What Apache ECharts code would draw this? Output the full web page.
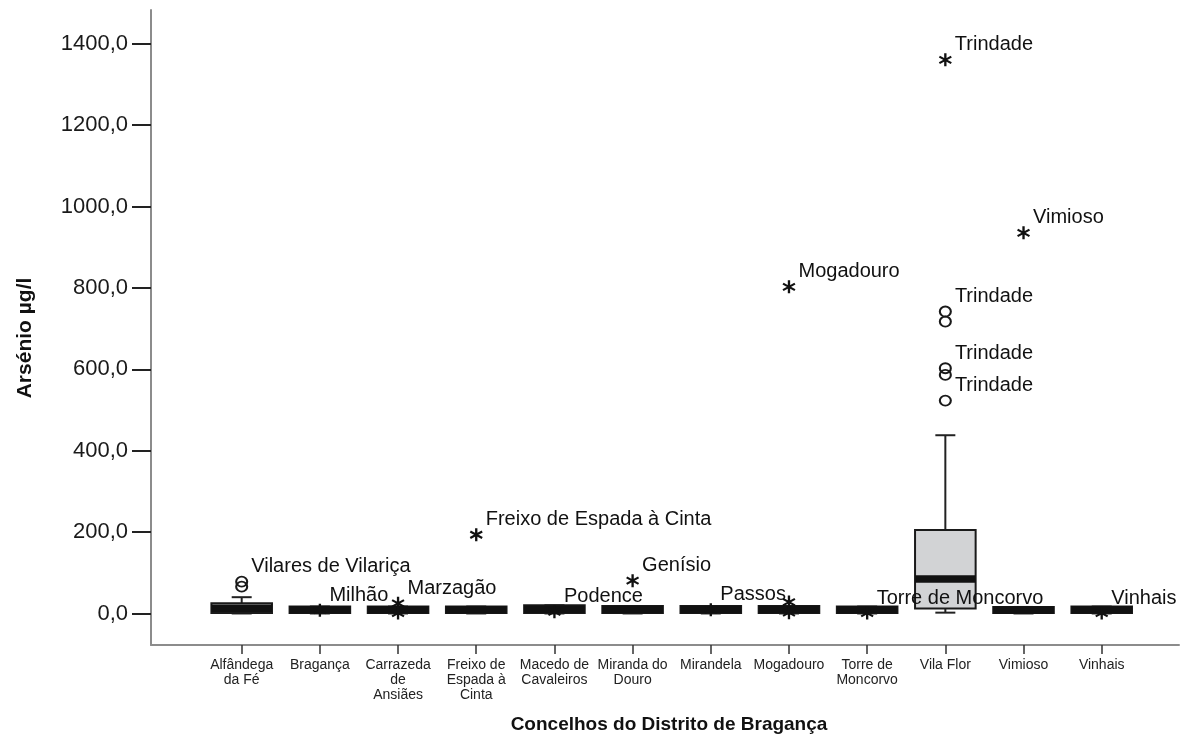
<!DOCTYPE html>
<html>
<head>
<meta charset="utf-8">
<script src="https://cdn.jsdelivr.net/npm/echarts@6/dist/echarts.min.js"></script>
<style>html,body{margin:0;padding:0;background:#fff}#c{width:1191px;height:738px}</style>
</head>
<body>
<div id="c"></div>
<script>
// ---- data ----
const categories = ['Alfândega\nda Fé','Bragança','Carrazeda\nde\nAnsiães','Freixo de\nEspada à\nCinta','Macedo de\nCavaleiros','Miranda do\nDouro','Mirandela','Mogadouro','Torre de\nMoncorvo','Vila Flor','Vimioso','Vinhais'];
const boxMin = [0, 0, 0, 0, 0, 0, 0, 0, 0, 2, 0, 0];
const boxQ1  = [1.2, 1, 1, 1, 1, 1, 1, 1, 1, 12, 1, 1];
const boxMed = [13, 9, 9, 9, 10.5, 9.7, 9.7, 9.7, 9, 85, 8.5, 9];
const boxQ3  = [25, 17, 17, 17, 20, 18.4, 18.4, 18.4, 17, 205, 16, 17];
const boxMax = [40, 17, 17, 17, 20, 18.4, 18.4, 18.4, 17, 438, 16, 17];

const starCat  = [1, 2, 2, 3, 4, 5, 6, 7, 7, 7, 8, 9, 10, 11];
const starVal  = [8, 25, 1, 193.5, 4, 80.6, 9, 802.6, 28, 2, 1, 1360.6, 935.3, 1];
const starName = ['Milhão', 'Marzagão', '', 'Freixo de Espada à Cinta', 'Podence', 'Genísio', 'Passos', 'Mogadouro', '', '', 'Torre de Moncorvo', 'Trindade', 'Vimioso', 'Vinhais'];

const circleCat  = [0, 0, 9, 9, 9, 9, 9];
const circleVal  = [78.2, 65.9, 741.9, 717.3, 602.7, 586.3, 523.1];
const circleName = ['Vilares de Vilariça', '', 'Trindade', '', 'Trindade', '', 'Trindade'];

const yTicks = [0, 200, 400, 600, 800, 1000, 1200, 1400];
const yMin = -77.5, yMax = 1483;
const yTitle = 'Arsénio µg/l';
const xTitle = 'Concelhos do Distrito de Bragança';

// ---- chart ----
const chart = echarts.init(document.getElementById('c'), null, {renderer: 'canvas'});
const FONT = 'Liberation Sans, Arial, sans-serif';
const starPath = 'path://M8.3 0L11.7 0L11.7 20L8.3 20Z M2.14 3.614L19.46 13.614L17.86 16.386L0.54 6.386Z M19.46 6.386L2.14 16.386L0.54 13.614L17.86 3.614Z';

function renderBox(params, api) {
  const i = api.value(0);
  const lo = api.coord([i, api.value(1)]);
  const q1 = api.coord([i, api.value(2)]);
  const md = api.coord([i, api.value(3)]);
  const q3 = api.coord([i, api.value(4)]);
  const hi = api.coord([i, api.value(5)]);
  const bw = api.size([1, 0])[0] * 0.775;
  const cap = 20;
  const cx = lo[0];
  const ln = {stroke: '#222', lineWidth: 2};
  return {
    type: 'group',
    children: [
      {type: 'line', shape: {x1: cx, y1: hi[1], x2: cx, y2: q3[1]}, style: ln},
      {type: 'line', shape: {x1: cx, y1: q1[1], x2: cx, y2: lo[1]}, style: ln},
      {type: 'line', shape: {x1: cx - cap / 2, y1: hi[1], x2: cx + cap / 2, y2: hi[1]}, style: ln},
      {type: 'line', shape: {x1: cx - cap / 2, y1: lo[1], x2: cx + cap / 2, y2: lo[1]}, style: ln},
      {type: 'rect', shape: {x: cx - bw / 2, y: q3[1], width: bw, height: q1[1] - q3[1]},
        style: {fill: '#d2d3d5', stroke: '#1a1a1a', lineWidth: 2}},
      {type: 'line', shape: {x1: cx - bw / 2, y1: md[1], x2: cx + bw / 2, y2: md[1]},
        style: {stroke: '#111', lineWidth: 7.5}}
    ]
  };
}

const labelCfg = {
  show: true, position: 'right', distance: 3, offset: [0, -15],
  formatter: p => p.data[2] || '', fontSize: 20, color: '#111', opacity: 1, fontFamily: FONT
};

const option = {
  animation: false,
  backgroundColor: '#fff',
  grid: [
    {left: 151, right: 12, top: 10, bottom: 93},
    {left: 202.6, width: 938.2, top: 10, bottom: 93}
  ],
  xAxis: [
    {gridIndex: 0, type: 'value', min: 0, max: 1,
      axisLine: {show: true, onZero: false, lineStyle: {color: '#8c8c8c', width: 2}},
      axisTick: {show: false}, axisLabel: {show: false}, splitLine: {show: false}},
    {gridIndex: 1, type: 'category', data: categories, boundaryGap: true,
      axisLine: {show: false, onZero: false},
      axisTick: {show: true, alignWithLabel: true, length: 9, lineStyle: {color: '#333', width: 1.5}},
      axisLabel: {interval: 0, margin: 13, fontSize: 14, lineHeight: 15, color: '#222', fontFamily: FONT},
      splitLine: {show: false}}
  ],
  yAxis: [
    {gridIndex: 0, type: 'value', min: yMin, max: yMax,
      axisLine: {show: true, onZero: false, lineStyle: {color: '#8c8c8c', width: 2}},
      axisTick: {show: true, length: 19, customValues: yTicks, lineStyle: {color: '#222', width: 2}},
      axisLabel: {customValues: yTicks, margin: 23, fontSize: 22, color: '#1a1a1a', fontFamily: FONT,
        formatter: v => v.toFixed(1).replace('.', ',')},
      splitLine: {show: false}},
    {gridIndex: 1, type: 'value', min: yMin, max: yMax, show: false,
      axisLine: {show: false}, axisTick: {show: false}, axisLabel: {show: false}, splitLine: {show: false}}
  ],
  series: [
    {type: 'custom', xAxisIndex: 1, yAxisIndex: 1, renderItem: renderBox, z: 2,
      encode: {x: 0, y: [1, 2, 3, 4, 5]},
      data: categories.map((c, i) => [i, boxMin[i], boxQ1[i], boxMed[i], boxQ3[i], boxMax[i]])},
    {type: 'scatter', xAxisIndex: 1, yAxisIndex: 1, z: 5,
      symbol: 'circle', symbolSize: [11, 10],
      itemStyle: {color: 'rgba(0,0,0,0)', borderColor: '#1a1a1a', borderWidth: 2, opacity: 1},
      label: labelCfg,
      data: circleCat.map((c, i) => [c, circleVal[i], circleName[i]])},
    {type: 'scatter', xAxisIndex: 1, yAxisIndex: 1, z: 5,
      symbol: starPath, symbolSize: 13,
      itemStyle: {color: '#111', opacity: 1},
      label: labelCfg,
      data: starCat.map((c, i) => [c, starVal[i], starName[i]])}
  ],
  graphic: [
    {type: 'text', x: 25, y: 338, rotation: Math.PI / 2,
      style: {text: yTitle, fontSize: 21, fontWeight: 'bold', fill: '#111', fontFamily: FONT,
        align: 'center', verticalAlign: 'middle'}},
    {type: 'text', x: 669, y: 725,
      style: {text: xTitle, fontSize: 19, fontWeight: 'bold', fill: '#111', fontFamily: FONT,
        align: 'center', verticalAlign: 'middle'}}
  ]
};
chart.setOption(option);
</script>
</body>
</html>
